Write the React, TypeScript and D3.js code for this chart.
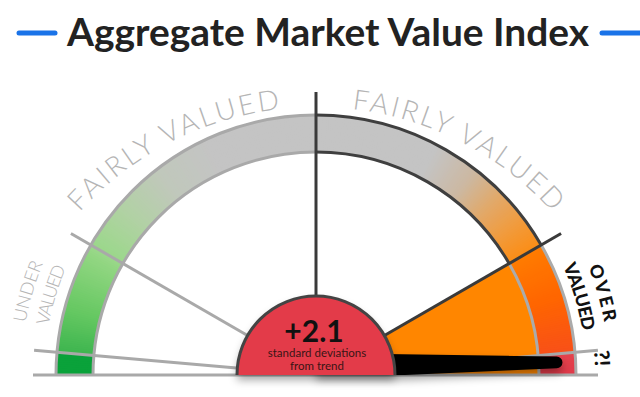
import React from 'react';
import * as d3 from 'd3';

const W = 640;
const H = 397;

const titleText = 'Aggregate Market Value Index';
const readingValue = 2.1;
const readingLabel = '+2.1';
const readingCaption = ['standard deviations', 'from trend'];

// gauge scale: standard deviations -> angle in degrees (0 = right, 180 = left)
const scaleDomain = [-2.25, -2, -1, 0, 1, 2, 2.25];
const scaleAngles = [180, 175, 150, 90, 30, 5, 0];
const dividerValues = [-2, -1, 0, 1, 2];
const dividerTones = ['light', 'light', 'dark', 'dark', 'light'];

// band colour stops along the gauge (angle in degrees)
const bandStopAngles = [180, 175.2, 175, 165, 152, 150.2, 140, 128, 115, 62, 52, 44, 36, 30.2, 30, 18, 5.2, 5, 0];
const bandStopColors = ['#0aa23a', '#0aa23a', '#3db54e', '#66c862', '#92d682', '#9ad88a', '#b0d2a2', '#c0c8bb', '#c4c4c4', '#c4c4c4', '#ccb8a2', '#e2a868', '#f29a38', '#fb8e18', '#ff7c00', '#ff6600', '#f85018', '#e5434c', '#e03a4a'];

const fairlyLabel = 'FAIRLY VALUED';
const underLabel = ['UNDER', 'VALUED'];
const overLabel = ['OVER', 'VALUED'];
const extremeLabel = '?!';

const cx = 316;
const cy = 375;
const rHub = 79;
const rIn = 223;
const rOut = 260;
const rLine = 283;

const angleOf = d3.scaleLinear<number, number>().domain(scaleDomain).range(scaleAngles);
const rad = (deg: number) => (deg * Math.PI) / 180;
const toD3 = (deg: number) => rad(90 - deg);
const pt = (r: number, deg: number, ox = cx, oy = cy) => [ox + r * Math.cos(rad(deg)), oy - r * Math.sin(rad(deg))];

function arcPath(r: number, a1: number, a2: number, ox = cx, oy = cy) {
  const [x1, y1] = pt(r, a1, ox, oy);
  const [x2, y2] = pt(r, a2, ox, oy);
  return `M${x1},${y1} A${r},${r} 0 0 1 ${x2},${y2}`;
}
const arcLen = (r: number, a1: number, a2: number) => (r * rad(a1 - a2));

const bandColor = d3.scaleLinear<string>().domain(bandStopAngles).range(bandStopColors).interpolate(d3.interpolateRgb);

export default function App() {
  const bandArc = d3.arc<any>().innerRadius(rIn).outerRadius(rOut);
  const segs: { a0: number; a1: number; c: string }[] = [];
  const step = 0.5;
  for (let a = 180; a > 0; a -= step) {
    const mid = a - step / 2;
    segs.push({ a0: a, a1: Math.max(0, a - step), c: bandColor(mid) });
  }

  const needleAngle = angleOf(readingValue);
  const wedgeTop = angleOf(1);
  const wedgePath = d3.arc<any>()({ innerRadius: 0, outerRadius: rIn, startAngle: toD3(wedgeTop), endAngle: toD3(0) }) as string;

  // tapered needle: base just above the hub centre, tip on the reading angle
  const [tx, ty] = pt(241, needleAngle);
  const bx = cx;
  const by = cy - 9;
  const hw0 = 13;
  const hw1 = 5.8;
  const len = Math.hypot(tx - bx, ty - by);
  const ux = (tx - bx) / len;
  const uy = (ty - by) / len;
  const nx = -uy;
  const ny = ux;
  const np = d3.path();
  np.moveTo(bx + nx * hw0, by + ny * hw0);
  np.lineTo(tx + nx * hw1, ty + ny * hw1);
  const tipAng = Math.atan2(ny, nx);
  np.arc(tx, ty, hw1, tipAng, tipAng + Math.PI, true);
  np.lineTo(bx - nx * hw0, by - ny * hw0);
  np.closePath();

  const textCy = cy + 50;
  const textR = 318;
  const fairL = [138, 96.5];
  const fairR = [83.5, 42];

  const u1 = [295, 169.8, 157.8];
  const u2 = [272, 169.5, 156.8];
  const o1 = [293, 21.6, 10.4];
  const o2 = [270, 23.8, 9.4];

  const thinFont = 'Lato, Roboto, "Open Sans", sans-serif';

  return (
    <svg width={W} height={H} style={{ position: 'absolute', left: 0, top: 0, background: '#fff' }}>
      <defs>
        <linearGradient id="wedgeGrad" x1="0" y1="230" x2="0" y2="375" gradientUnits="userSpaceOnUse">
          <stop offset="0" stopColor="#ff8600" />
          <stop offset="0.5" stopColor="#ff7400" />
          <stop offset="0.82" stopColor="#f85814" />
          <stop offset="1" stopColor="#ea4636" />
        </linearGradient>
        <filter id="shadow" x="-30%" y="-30%" width="160%" height="170%">
          <feDropShadow dx="0" dy="5" stdDeviation="4" floodColor="#000" floodOpacity="0.35" />
        </filter>
        <clipPath id="aboveBase">
          <rect x="0" y="0" width={W} height={cy} />
        </clipPath>
        <path id="tFairL" d={arcPath(textR, fairL[0], fairL[1], cx, textCy)} />
        <path id="tFairR" d={arcPath(textR, fairR[0], fairR[1], cx, textCy)} />
        <path id="tUnder1" d={arcPath(u1[0], u1[1], u1[2])} />
        <path id="tUnder2" d={arcPath(u2[0], u2[1], u2[2])} />
        <path id="tOver1" d={arcPath(o1[0], o1[1], o1[2])} />
        <path id="tOver2" d={arcPath(o2[0], o2[1], o2[2])} />
        <path id="tExt" d={arcPath(279, 5, 0.3)} />
      </defs>

      {/* title */}
      <line x1={19} y1={33} x2={55} y2={33} stroke="#1a73e8" strokeWidth={5} strokeLinecap="round" />
      <line x1={602} y1={33} x2={650} y2={33} stroke="#1a73e8" strokeWidth={5} strokeLinecap="round" />
      <text x={328} y={46} textAnchor="middle" fontFamily='Lato, Roboto, sans-serif' fontWeight={700} fontSize={38} fill="#222" textLength={522} lengthAdjust="spacingAndGlyphs">{titleText}</text>

      {/* orange wedge */}
      <path d={wedgePath} transform={`translate(${cx},${cy})`} fill="url(#wedgeGrad)" />

      {/* band */}
      <g transform={`translate(${cx},${cy})`}>
        {segs.map((s, i) => (
          <path key={i} d={bandArc({ startAngle: toD3(s.a0) - 0.002, endAngle: toD3(s.a1) + 0.002 } as any) as string} fill={s.c} />
        ))}
      </g>

      {/* band outlines */}
      <g fill="none" strokeWidth={3}>
        <path d={arcPath(rOut, 180, 90)} stroke="#a9a9a9" />
        <path d={arcPath(rIn, 180, 90)} stroke="#a9a9a9" />
        <path d={arcPath(rOut, 30, 0)} stroke="#ababab" />
        <path d={arcPath(rIn, 30, 0)} stroke="#ababab" />
        <path d={arcPath(rOut, 90, 30)} stroke="#3f3f3f" />
        <path d={arcPath(rIn, 90, 30)} stroke="#3f3f3f" />
      </g>

      {/* dividers */}
      {dividerValues.map((v, i) => {
        const a = angleOf(v);
        const [x1, y1] = pt(rHub - 5, a);
        const [x2, y2] = pt(rLine, a);
        return <line key={i} x1={x1} y1={y1} x2={x2} y2={y2} stroke={dividerTones[i] === 'dark' ? '#3a3a3a' : '#a9a9a9'} strokeWidth={3} />;
      })}
      <line x1={33} y1={cy} x2={598} y2={cy} stroke="#a9a9a9" strokeWidth={3} />

      {/* needle */}
      <g filter="url(#shadow)">
        <g clipPath="url(#aboveBase)">
          <path d={np.toString()} fill="#000" />
        </g>
      </g>

      {/* hub */}
      <path d={`M${cx - rHub},${cy} A${rHub},${rHub} 0 0 1 ${cx + rHub},${cy} Z`} fill="#e33b48" filter="url(#shadow)" />
      <path d={`M${cx - rHub},${cy} A${rHub},${rHub} 0 0 1 ${cx + rHub},${cy}`} fill="none" stroke="#444" strokeWidth={3} />
      <text x={cx - 2} y={342} textAnchor="middle" fontFamily='Lato, Roboto, sans-serif' fontWeight={700} fontSize={30} fill="#111">{readingLabel}</text>
      <text x={cx + 1} y={357} textAnchor="middle" fontFamily='Lato, Roboto, sans-serif' fontSize={11.5} fill="#3a1515">{readingCaption[0]}</text>
      <text x={cx + 1} y={370} textAnchor="middle" fontFamily='Lato, Roboto, sans-serif' fontSize={11.5} fill="#3a1515">{readingCaption[1]}</text>

      {/* zone labels */}
      <g fontFamily={thinFont} fontWeight={300} fill="#b5b5b5">
        <text fontSize={28}>
          <textPath href="#tFairL" textLength={arcLen(textR, fairL[0], fairL[1])} lengthAdjust="spacing">{fairlyLabel}</textPath>
        </text>
        <text fontSize={28}>
          <textPath href="#tFairR" textLength={arcLen(textR, fairR[0], fairR[1])} lengthAdjust="spacing">{fairlyLabel}</textPath>
        </text>
        <text fontSize={18}>
          <textPath href="#tUnder1" textLength={arcLen(u1[0], u1[1], u1[2])} lengthAdjust="spacing">{underLabel[0]}</textPath>
        </text>
        <text fontSize={18}>
          <textPath href="#tUnder2" textLength={arcLen(u2[0], u2[1], u2[2])} lengthAdjust="spacing">{underLabel[1]}</textPath>
        </text>
      </g>
      <g fontFamily='Lato, Roboto, sans-serif' fontWeight={900} fill="#111">
        <text fontSize={18}>
          <textPath href="#tOver1" textLength={arcLen(o1[0], o1[1], o1[2])} lengthAdjust="spacing">{overLabel[0]}</textPath>
        </text>
        <text fontSize={18}>
          <textPath href="#tOver2" textLength={arcLen(o2[0], o2[1], o2[2])} lengthAdjust="spacing">{overLabel[1]}</textPath>
        </text>
        <text fontSize={21}>
          <textPath href="#tExt">{extremeLabel}</textPath>
        </text>
      </g>
    </svg>
  );
}
